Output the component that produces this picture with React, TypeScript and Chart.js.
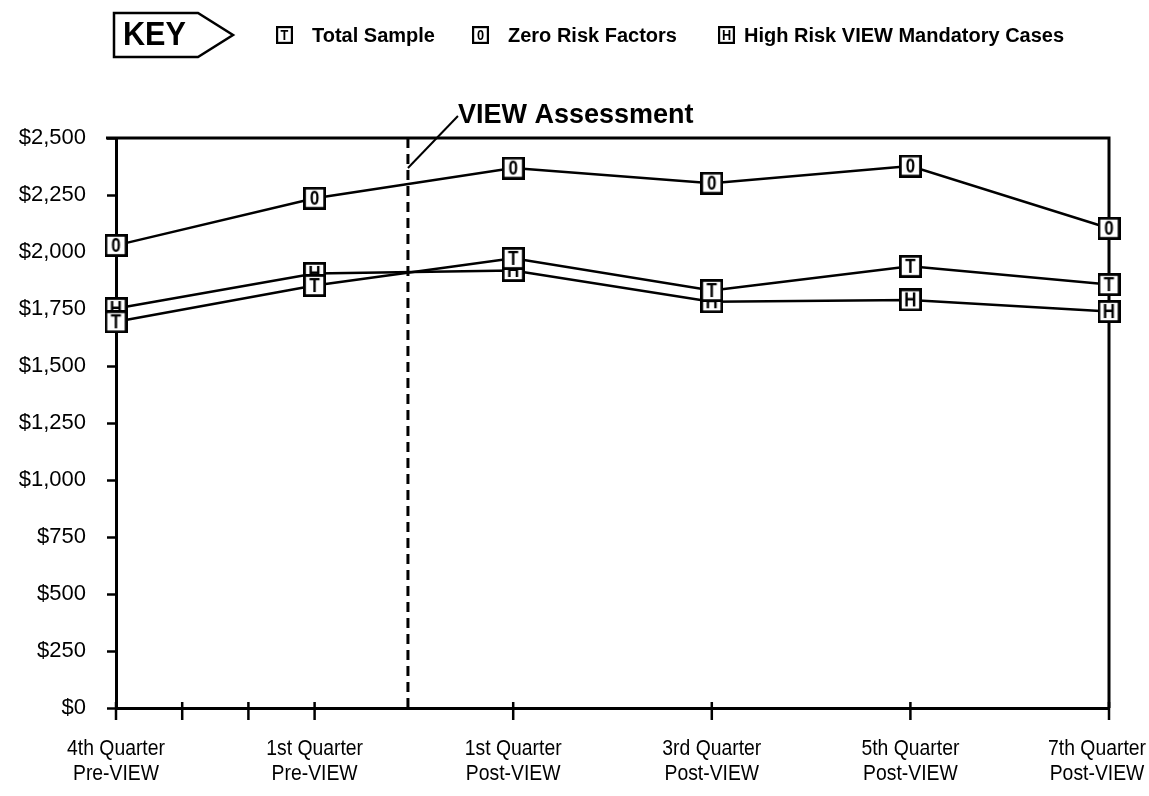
import React, { useEffect, useRef } from 'react';
import { Chart, registerables } from 'chart.js';

Chart.register(...registerables);

// Quarter categories along the x axis (two-line labels)
const quarterLabels: string[][] = [
  ['4th Quarter', 'Pre-VIEW'],
  ['1st Quarter', 'Pre-VIEW'],
  ['1st Quarter', 'Post-VIEW'],
  ['3rd Quarter', 'Post-VIEW'],
  ['5th Quarter', 'Post-VIEW'],
  ['7th Quarter', 'Post-VIEW'],
];
const quarterPositions = [0, 1, 2, 3, 4, 5];
// Unlabelled quarter ticks between the first two categories
const minorTickPositions = [1 / 3, 2 / 3];
// Where the VIEW assessment happens on the quarter axis
const assessmentPosition = 1.47;

// Average dollars per case
const totalSample = [1694, 1853, 1972, 1831, 1937, 1857];
const zeroRiskFactors = [2029, 2236, 2368, 2302, 2377, 2104];
const highRiskMandatory = [1752, 1906, 1919, 1782, 1790, 1739];

const yMin = 0;
const yMax = 2500;
const yStep = 250;

const seriesNames = ['Total Sample', 'Zero Risk Factors', 'High Risk VIEW Mandatory Cases'];
const seriesLetters = ['T', '0', 'H'];
const keyLabel = 'KEY';
const assessmentLabel = 'VIEW Assessment';

const FONT = '"Liberation Sans", Arial, Helvetica, sans-serif';

function makeMarker(letter: string, w = 23, h = 23, fontPx = 20, border = 2.8): HTMLCanvasElement {
  const c = document.createElement('canvas');
  c.width = w;
  c.height = h;
  const ctx = c.getContext('2d')!;
  ctx.fillStyle = '#fff';
  ctx.fillRect(0, 0, w, h);
  ctx.strokeStyle = '#000';
  ctx.lineWidth = border;
  ctx.strokeRect(border / 2, border / 2, w - border, h - border);
  ctx.fillStyle = '#000';
  ctx.font = `bold ${fontPx}px ${FONT}`;
  ctx.textAlign = 'center';
  ctx.textBaseline = 'middle';
  ctx.save();
  ctx.translate(w / 2, h / 2 + 1);
  ctx.scale(0.85, 1);
  ctx.fillText(letter, 0, 0);
  ctx.restore();
  return c;
}

function drawCondensed(ctx: CanvasRenderingContext2D, text: string, x: number, y: number, sx: number) {
  ctx.save();
  ctx.translate(x, y);
  ctx.scale(sx, 1);
  ctx.fillText(text, 0, 0);
  ctx.restore();
}

const decorPlugin = {
  id: 'decor',
  beforeDatasetsDraw(chart: any) {
    const { ctx, chartArea, scales } = chart;
    const { left, right, top, bottom } = chartArea;
    ctx.save();
    ctx.strokeStyle = '#000';
    ctx.lineWidth = 3;
    // frame: top and right edges
    ctx.beginPath();
    ctx.moveTo(left - 10, top);
    ctx.lineTo(right, top);
    ctx.lineTo(right, bottom);
    ctx.stroke();
    // assessment divider
    const ax = scales.x.getPixelForValue(assessmentPosition);
    ctx.setLineDash([10, 6]);
    ctx.beginPath();
    ctx.moveTo(ax, top);
    ctx.lineTo(ax, bottom);
    ctx.stroke();
    ctx.restore();
  },
  afterDraw(chart: any) {
    const { ctx, chartArea, scales, width } = chart;
    const { top, bottom } = chartArea;
    const xs = scales.x;
    ctx.save();
    ctx.strokeStyle = '#000';
    ctx.fillStyle = '#000';

    // x tick marks crossing the axis
    ctx.lineWidth = 2.5;
    [...quarterPositions, ...minorTickPositions].forEach((v) => {
      const px = xs.getPixelForValue(v);
      ctx.beginPath();
      ctx.moveTo(px, bottom - 6);
      ctx.lineTo(px, bottom + 12);
      ctx.stroke();
    });

    // x category labels, kept inside the canvas at the right edge
    const sx = 0.88;
    ctx.font = `22px ${FONT}`;
    ctx.textAlign = 'center';
    ctx.textBaseline = 'middle';
    quarterLabels.forEach((lines, i) => {
      const px = xs.getPixelForValue(quarterPositions[i]);
      const widest = Math.max(...lines.map((l) => ctx.measureText(l).width * sx));
      const cx = Math.min(px, width - 3 - widest / 2);
      lines.forEach((line, j) => drawCondensed(ctx, line, cx, 749 + j * 25, sx));
    });

    // assessment annotation
    const ax = xs.getPixelForValue(assessmentPosition);
    ctx.lineWidth = 2;
    ctx.beginPath();
    ctx.moveTo(ax, top + 30);
    ctx.lineTo(ax + 50, top - 22);
    ctx.stroke();
    ctx.font = `bold 27px ${FONT}`;
    ctx.textAlign = 'left';
    ctx.textBaseline = 'alphabetic';
    ctx.fillText(assessmentLabel, ax + 50, top - 15);

    // legend key
    ctx.lineWidth = 2.5;
    ctx.beginPath();
    ctx.moveTo(114, 13);
    ctx.lineTo(198, 13);
    ctx.lineTo(233, 35);
    ctx.lineTo(198, 57);
    ctx.lineTo(114, 57);
    ctx.closePath();
    ctx.stroke();
    ctx.font = `bold 34px ${FONT}`;
    ctx.textBaseline = 'middle';
    drawCondensed(ctx, keyLabel, 123, 36, 0.9);

    const itemBoxX = [276, 472, 718];
    const itemTextX = [312, 508, 744];
    ctx.font = `bold 20px ${FONT}`;
    seriesNames.forEach((name, i) => {
      const m = makeMarker(seriesLetters[i], 17, 18, 15, 2.2);
      ctx.drawImage(m, itemBoxX[i], 26);
      ctx.textAlign = 'left';
      ctx.textBaseline = 'middle';
      ctx.fillText(name, itemTextX[i], 36);
    });
    ctx.restore();
  },
};

export default function App() {
  const canvasRef = useRef<HTMLCanvasElement | null>(null);

  useEffect(() => {
    const canvas = canvasRef.current;
    if (!canvas) return;
    const markers = seriesLetters.map((l) => makeMarker(l));
    const toPoints = (vals: number[]) => vals.map((y, i) => ({ x: quarterPositions[i], y }));
    const lineStyle = {
      borderColor: '#000',
      borderWidth: 2.5,
      tension: 0,
      fill: false,
      clip: false,
      pointRadius: 12,
      pointHoverRadius: 12,
    };
    const yTicks: number[] = [];
    for (let v = yMin; v <= yMax; v += yStep) yTicks.push(v);

    const chart = new Chart(canvas, {
      type: 'line',
      data: {
        datasets: [
          { label: seriesNames[0], data: toPoints(totalSample), pointStyle: markers[0], ...lineStyle },
          { label: seriesNames[1], data: toPoints(zeroRiskFactors), pointStyle: markers[1], ...lineStyle },
          { label: seriesNames[2], data: toPoints(highRiskMandatory), pointStyle: markers[2], ...lineStyle },
        ],
      },
      options: {
        responsive: false,
        animation: false,
        events: [],
        layout: { padding: { left: 0, top: 138, right: 40, bottom: 0 } },
        plugins: {
          legend: { display: false },
          tooltip: { enabled: false },
        },
        scales: {
          x: {
            type: 'linear',
            min: quarterPositions[0],
            max: quarterPositions[quarterPositions.length - 1],
            grid: { display: false },
            ticks: { display: false },
            border: { display: true, color: '#000', width: 3 },
            afterFit(scale: any) {
              scale.height = 88;
              scale.paddingLeft = 0;
              scale.paddingRight = 0;
            },
          },
          y: {
            type: 'linear',
            min: yMin,
            max: yMax,
            afterBuildTicks(scale: any) {
              scale.ticks = yTicks.map((value) => ({ value }));
            },
            grid: {
              drawOnChartArea: false,
              drawTicks: true,
              tickLength: 9,
              tickWidth: 2.5,
              tickColor: '#000',
            },
            border: { display: true, color: '#000', width: 3 },
            ticks: {
              padding: 21,
              color: '#000',
              font: { family: FONT, size: 22 },
              callback: (v: any) => '$' + Number(v).toLocaleString('en-US'),
            },
            afterFit(scale: any) {
              scale.width = 116;
              scale.paddingTop = 0;
              scale.paddingBottom = 0;
            },
          },
        },
      },
      plugins: [decorPlugin],
    } as any);
    return () => chart.destroy();
  }, []);

  return (
    <div style={{ position: 'absolute', left: 0, top: 0, width: 1149, height: 796, background: '#fff' }}>
      <canvas ref={canvasRef} width={1149} height={796} style={{ display: 'block' }} />
    </div>
  );
}
